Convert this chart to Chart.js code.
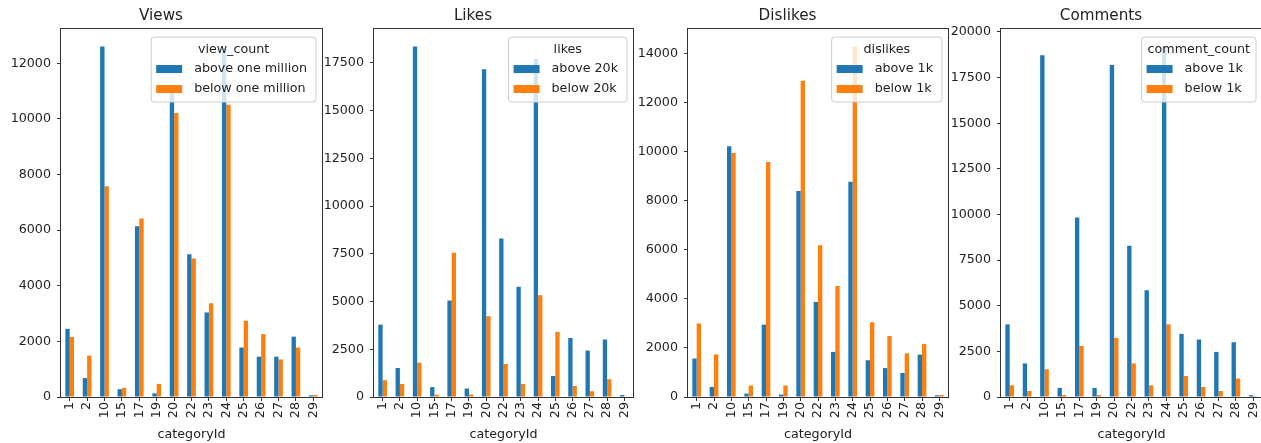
<!DOCTYPE html>
<html>
<head>
<meta charset="utf-8">
<script src="https://cdn.jsdelivr.net/npm/chart.js"></script>
<style>
  body { margin: 0; background: #fff; width: 1261px; height: 443px; overflow: hidden; position: relative; }
  canvas { position: absolute; top: 0; }
</style>
</head>
<body>
<canvas id="views" width="332" height="443" style="left:0px"></canvas>
<canvas id="likes" width="330" height="443" style="left:313px"></canvas>
<canvas id="dislikes" width="331" height="443" style="left:627px"></canvas>
<canvas id="comments" width="332" height="443" style="left:940px"></canvas>
<script>
// category ids on the x axis
var categories = ['1', '2', '10', '15', '17', '19', '20', '22', '23', '24', '25', '26', '27', '28', '29'];

// Views
var viewsAbove = [2450, 680, 12600, 280, 6140, 130, 10950, 5130, 3040, 12520, 1780, 1450, 1450, 2170, 60];
var viewsBelow = [2160, 1490, 7580, 330, 6420, 470, 10210, 4980, 3370, 10510, 2740, 2260, 1350, 1780, 70];
var viewsTicks = [0, 2000, 4000, 6000, 8000, 10000, 12000];

// Likes
var likesAbove = [3790, 1520, 18350, 520, 5050, 440, 17160, 8300, 5770, 17700, 1100, 3090, 2430, 3010, 100];
var likesBelow = [880, 680, 1800, 120, 7550, 130, 4230, 1730, 680, 5330, 3410, 580, 300, 930, 20];
var likesTicks = [0, 2500, 5000, 7500, 10000, 12500, 15000, 17500];

// Dislikes
var dislikesAbove = [1570, 410, 10230, 140, 2950, 100, 8410, 3880, 1840, 8780, 1500, 1180, 980, 1730, 70];
var dislikesBelow = [3000, 1740, 9960, 470, 9590, 470, 12910, 6190, 4530, 14300, 3050, 2490, 1780, 2160, 80];
var dislikesTicks = [0, 2000, 4000, 6000, 8000, 10000, 12000, 14000];

// Comments
var commentsAbove = [3980, 1840, 18720, 500, 9830, 490, 18190, 8280, 5850, 19200, 3460, 3150, 2470, 3000, 100];
var commentsBelow = [640, 330, 1520, 110, 2800, 110, 3240, 1840, 640, 3980, 1150, 550, 330, 1010, 10];
var commentsTicks = [0, 2500, 5000, 7500, 10000, 12500, 15000, 17500, 20000];

var BLUE = '#1f77b4';
var ORANGE = '#ff7f0e';
var TEXT = '#222';
var FONT = 'DejaVu Sans';

// legend drawn inside the plot area, top right, like matplotlib
var boxLegend = {
    id: 'boxLegend',
    afterDatasetsDraw: function(chart, args, opts) {
        var ctx = chart.ctx, area = chart.chartArea;
        var sets = chart.data.datasets;
        ctx.save();
        ctx.font = '12.7px "' + FONT + '"';
        var textW = 0;
        sets.forEach(function(d) { textW = Math.max(textW, ctx.measureText(d.label).width); });
        var titleW = ctx.measureText(opts.title).width;
        var w = Math.max(43 + textW + 9, titleW + 12);
        var h = 65;
        var x = area.right - 6 - w, y = area.top + 8;
        ctx.beginPath();
        ctx.roundRect(x, y, w, h, 3);
        ctx.fillStyle = 'rgba(255,255,255,0.8)';
        ctx.fill();
        ctx.strokeStyle = '#cccccc';
        ctx.lineWidth = 1;
        ctx.stroke();
        ctx.textBaseline = 'middle';
        ctx.textAlign = 'center';
        ctx.fillStyle = TEXT;
        ctx.fillText(opts.title, x + w / 2, y + 13);
        sets.forEach(function(d, i) {
            var cy = y + 32 + i * 20;
            ctx.fillStyle = d.backgroundColor;
            ctx.fillRect(x + 5, cy - 4, 26, 8);
            ctx.fillStyle = TEXT;
            ctx.textAlign = 'left';
            ctx.fillText(d.label, x + 43, cy);
        });
        ctx.restore();
    }
};

// full frame around the axes (all four spines)
var frame = {
    id: 'frame',
    afterDraw: function(chart) {
        var ctx = chart.ctx, a = chart.chartArea;
        ctx.save();
        ctx.strokeStyle = '#333';
        ctx.lineWidth = 1;
        ctx.strokeRect(Math.round(a.left) - 0.5, Math.round(a.top) - 0.5,
            Math.round(a.right - a.left) + 1, Math.round(a.bottom - a.top) + 1);
        ctx.restore();
    }
};

function renderPanel(id, title, legendTitle, labels, above, below, tickValues) {
    var yMax = Math.max(Math.max.apply(null, above), Math.max.apply(null, below)) * 1.05;
    var config = {
        type: 'bar',
        data: {
            labels: categories,
            datasets: [
                { label: labels[0], data: above, backgroundColor: BLUE, categoryPercentage: 0.5, barPercentage: 1.0 },
                { label: labels[1], data: below, backgroundColor: ORANGE, categoryPercentage: 0.5, barPercentage: 1.0 }
            ]
        },
        options: {
            responsive: false,
            animation: false,
            devicePixelRatio: 1,
            layout: { padding: { left: 0, right: 10, top: 0, bottom: 0 } },
            plugins: {
                legend: { display: false },
                tooltip: { enabled: false },
                title: {
                    display: true,
                    text: title,
                    color: TEXT,
                    font: { family: FONT, size: 15.2, weight: 'normal', lineHeight: 1.2 },
                    padding: { top: 7, bottom: 3.8 }
                },
                boxLegend: { title: legendTitle }
            },
            scales: {
                x: {
                    offset: true,
                    grid: { display: true, drawOnChartArea: false, drawTicks: true, tickLength: 4, offset: false, color: '#333' },
                    border: { display: false },
                    ticks: { autoSkip: false, minRotation: 90, maxRotation: 90, padding: 1, color: TEXT, font: { family: FONT, size: 12.7 } },
                    title: { display: true, text: 'categoryId', color: TEXT, font: { family: FONT, size: 12.7 }, padding: { top: 0, bottom: 1 } },
                    afterFit: function(scale) { scale.height = 46; }
                },
                y: {
                    min: 0,
                    max: yMax,
                    grid: { display: true, drawOnChartArea: false, drawTicks: true, tickLength: 4, color: '#333' },
                    border: { display: false },
                    ticks: {
                        padding: 6, color: TEXT, font: { family: FONT, size: 12.7 },
                        callback: function(v) { return String(v); }
                    },
                    afterBuildTicks: function(scale) {
                        scale.ticks = tickValues.map(function(v) { return { value: v }; });
                    },
                    afterFit: function(scale) { scale.width = 61; }
                }
            }
        },
        plugins: [boxLegend, frame]
    };
    var ctx = document.getElementById(id);
    if (ctx) {
        new Chart(ctx, config);
    }
}

renderPanel('views', 'Views', 'view_count', ['above one million', 'below one million'], viewsAbove, viewsBelow, viewsTicks);
renderPanel('likes', 'Likes', 'likes', ['above 20k', 'below 20k'], likesAbove, likesBelow, likesTicks);
renderPanel('dislikes', 'Dislikes', 'dislikes', ['above 1k', 'below 1k'], dislikesAbove, dislikesBelow, dislikesTicks);
renderPanel('comments', 'Comments', 'comment_count', ['above 1k', 'below 1k'], commentsAbove, commentsBelow, commentsTicks);
</script>
</body>
</html>
